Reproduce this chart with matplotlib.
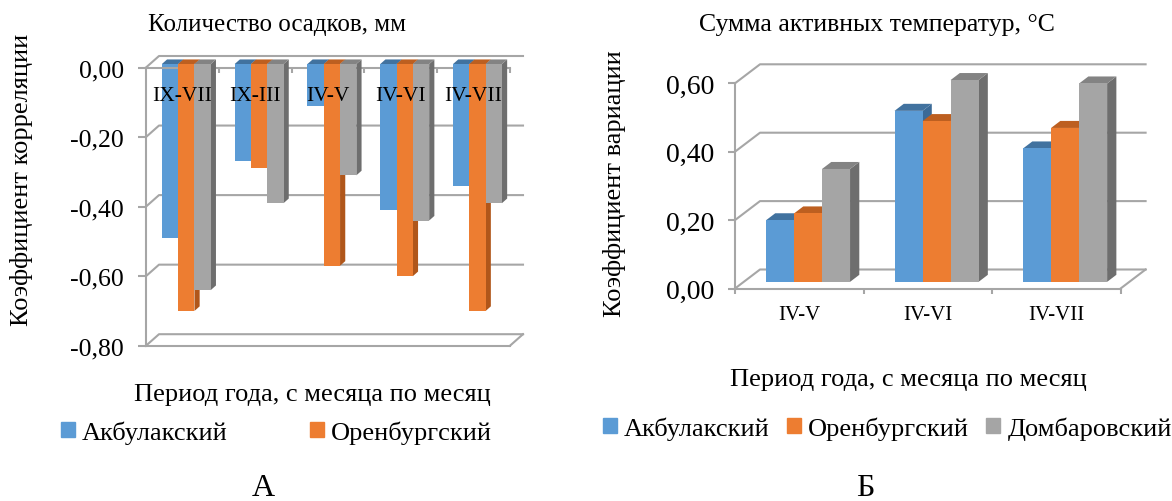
import matplotlib.pyplot as plt
from matplotlib.patches import Polygon, Patch
from matplotlib.ticker import FuncFormatter

plt.rcParams['font.family'] = 'serif'
plt.rcParams['font.serif'] = ['Liberation Serif', 'Times New Roman', 'DejaVu Serif']

# --- A: correlation with precipitation
periods_a = ['IX-VII', 'IX-III', 'IV-V', 'IV-VI', 'IV-VII']
akbulak_a = [-0.50, -0.28, -0.12, -0.42, -0.35]
orenburg_a = [-0.71, -0.30, -0.58, -0.61, -0.71]
dombarovsky_a = [-0.65, -0.40, -0.32, -0.45, -0.40]
yticks_a = [0.0, -0.2, -0.4, -0.6, -0.8]

# --- Б: variation of the sum of active temperatures
periods_b = ['IV-V', 'IV-VI', 'IV-VII']
akbulak_b = [0.18, 0.50, 0.39]
orenburg_b = [0.20, 0.47, 0.45]
dombarovsky_b = [0.33, 0.59, 0.58]
yticks_b = [0.0, 0.2, 0.4, 0.6]

stations = ['Акбулакский', 'Оренбургский', 'Домбаровский']
colors = ['#5B9BD5', '#ED7D31', '#A5A5A5']
tops = ['#41729F', '#BD5F20', '#838383']
sides = ['#3B6A97', '#B0561A', '#6E6E6E']
grid_c = '#A6A6A6'

W, H = 1172, 502


def px2data(ax, dx, dy):
    x0, x1 = ax.get_xlim()
    y0, y1 = ax.get_ylim()
    return dx * (x1 - x0) / ax.bbox.width, dy * (y1 - y0) / ax.bbox.height


def walls(ax, ticks, wall_px, floor):
    dx, dy = px2data(ax, *wall_px)
    x0, x1 = ax.get_xlim()
    kw = dict(color=grid_c, lw=1.5, clip_on=False, zorder=1)
    for t in ticks:
        ax.plot([x0, x0 + dx, x1 + dx], [t, t + dy, t + dy], **kw)
    ax.plot([x1, x1 + dx], [floor, floor + dy], **kw)


def bars3d(ax, series, wall_px, width, front, back):
    dx, dy = px2data(ax, *wall_px)
    fx, fy = front * dx, front * dy
    bx, by = (back - front) * dx, (back - front) * dy
    z = 2
    for i in range(len(series[0])):
        for j, vals in enumerate(series):
            v = vals[i]
            xl = i + (j - 1.5) * width + fx
            xr = xl + width
            lo, hi = fy + min(v, 0), fy + max(v, 0)
            ax.add_patch(Polygon([(xr, lo), (xr, hi), (xr + bx, hi + by), (xr + bx, lo + by)],
                                 fc=sides[j], ec='none', zorder=z, clip_on=False))
            ax.add_patch(Polygon([(xl, hi), (xr, hi), (xr + bx, hi + by), (xl + bx, hi + by)],
                                 fc=tops[j], ec='none', zorder=z, clip_on=False))
            ax.bar(xl, v, width=width, bottom=fy, align='edge', color=colors[j],
                   zorder=z + 0.5, clip_on=False)
            z += 1


def fmt(v, p):
    return f'{v:.2f}'.replace('.', ',').replace('-0,00', '0,00')


def style_axis(ax, fontsize, length, pad):
    for s in ax.spines.values():
        s.set_visible(False)
    ax.spines['left'].set_visible(True)
    ax.spines['left'].set_color(grid_c)
    ax.spines['left'].set_linewidth(1.5)
    ax.yaxis.set_major_formatter(FuncFormatter(fmt))
    ax.tick_params(axis='y', length=length, width=1.5, color=grid_c,
                   labelsize=fontsize, pad=pad)
    ax.patch.set_alpha(0)


fig = plt.figure(figsize=(W / 100, H / 100), dpi=100)

# %% A
ax1 = fig.add_axes([146 / W, (H - 346.7) / H, 364 / W, (346.7 - 68.5) / H])
ax1.set_xlim(-0.5, 4.5)
ax1.set_ylim(-0.8, 0)
ax1.set_yticks(yticks_a)
style_axis(ax1, 18.5, 5.8, 10)
for side in ['top', 'bottom']:
    ax1.spines[side].set_visible(True)
    ax1.spines[side].set_color(grid_c)
    ax1.spines[side].set_linewidth(1.5)
ax1.xaxis.set_ticks_position('top')
ax1.set_xticks([])
ax1.set_xticks([i + 0.5 for i in range(len(periods_a))], minor=True)
ax1.tick_params(axis='x', which='minor', direction='in', length=3.6, width=1.5, color=grid_c)
walls(ax1, yticks_a, (13, 11.5), -0.8)
bars3d(ax1, [akbulak_a, orenburg_a, dombarovsky_a], (13, 11.5), 0.224, 0.3, 0.7)
for i, lab in enumerate(periods_a):
    ax1.annotate(lab, (i, 0), xytext=(0, -28), textcoords='offset pixels',
                 ha='center', va='center', fontsize=15.5, zorder=100)

fig.text(277 / W, 1 - 25 / H, 'Количество осадков, мм', ha='center', va='center', fontsize=18)
fig.text(22 / W, 1 - 180 / H, 'Коэффициент корреляции', rotation=90,
         ha='center', va='center', fontsize=19)
fig.text(312 / W, 1 - 395 / H, 'Период года, с месяца по месяц', ha='center', va='center', fontsize=19)
fig.legend([Patch(color=c) for c in colors[:2]], stations[:2], ncol=2, frameon=False,
           loc='center left', bbox_to_anchor=(61 / W, 1 - 433 / H), fontsize=19,
           borderpad=0, borderaxespad=0, handlelength=0.53, handleheight=0.53,
           handletextpad=0.27, columnspacing=3.1)
fig.text(263 / W, 1 - 489 / H, 'А', ha='center', va='center', fontsize=23)

# %% Б
ax2 = fig.add_axes([735 / W, (H - 289.5) / H, 385.6 / W, (289.5 - 84.3) / H])
ax2.set_xlim(-0.5, 2.5)
ax2.set_ylim(0, 0.6)
ax2.set_yticks(yticks_b)
style_axis(ax2, 20, 5, 10)
ax2.spines['bottom'].set_visible(True)
ax2.spines['bottom'].set_color(grid_c)
ax2.spines['bottom'].set_linewidth(1.5)
ax2.set_xticks(range(len(periods_b)), periods_b)
ax2.set_xticks([i - 0.5 for i in range(len(periods_b) + 1)], minor=True)
ax2.tick_params(axis='x', which='major', length=0, labelsize=15, pad=12)
ax2.tick_params(axis='x', which='minor', length=3.6, width=1.5, color=grid_c)
walls(ax2, yticks_b, (25, 19), 0)
bars3d(ax2, [akbulak_b, orenburg_b, dombarovsky_b], (25, 19), 0.218, 0.35, 0.72)

fig.text(877 / W, 1 - 25 / H, 'Сумма активных температур, °C', ha='center', va='center', fontsize=18.5)
fig.text(614 / W, 1 - 184 / H, 'Коэффициент вариации', rotation=90,
         ha='center', va='center', fontsize=19)
fig.text(908 / W, 1 - 380 / H, 'Период года, с месяца по месяц', ha='center', va='center', fontsize=19)
fig.legend([Patch(color=c) for c in colors], stations, ncol=3, frameon=False,
           loc='center left', bbox_to_anchor=(603 / W, 1 - 429 / H), fontsize=19,
           borderpad=0, borderaxespad=0, handlelength=0.53, handleheight=0.53,
           handletextpad=0.27, columnspacing=0.65)
fig.text(865 / W, 1 - 489 / H, 'Б', ha='center', va='center', fontsize=23)

fig.savefig('out.png', dpi=100)
